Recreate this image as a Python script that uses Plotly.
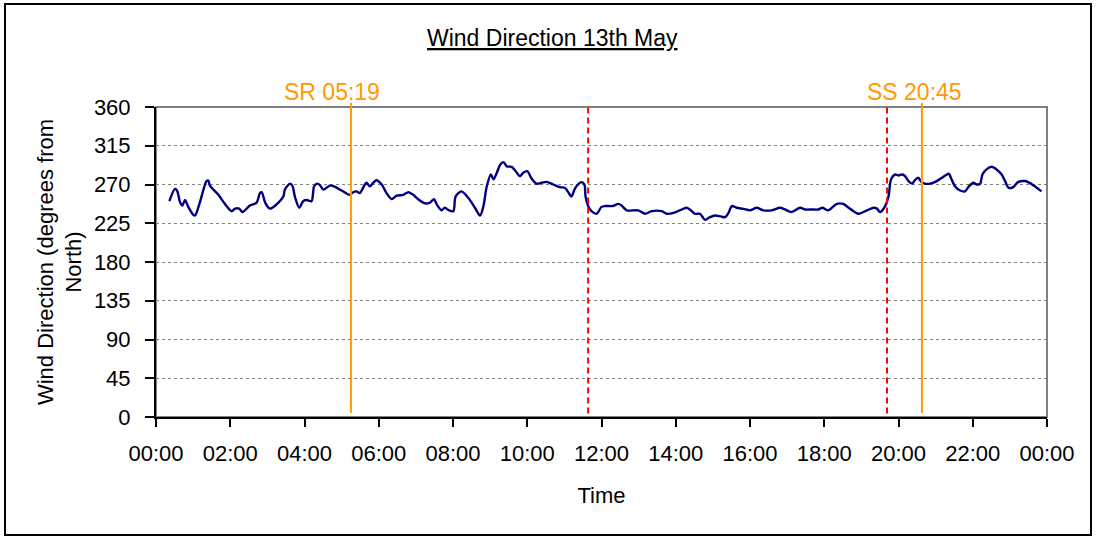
import pandas as pd
import plotly.graph_objects as go

# ---- data (hours after midnight, degrees from North) ----
hours = [0.36, 0.51, 0.575, 0.65, 0.71, 0.78, 0.87, 1.0, 1.05, 1.18, 1.36, 1.41, 1.45, 1.68, 1.90,
         2.04, 2.13, 2.24, 2.33, 2.53, 2.71, 2.80, 2.85, 2.94, 3.07, 3.25, 3.43, 3.47, 3.61, 3.68,
         3.74, 3.86, 3.97, 4.06, 4.19, 4.26, 4.35, 4.42, 4.51, 4.69, 4.78, 5.00, 5.21, 5.31, 5.40,
         5.49, 5.60, 5.67, 5.76, 5.85, 5.94, 6.08, 6.21, 6.35, 6.48, 6.66, 6.80, 6.93, 7.07, 7.25,
         7.38, 7.49, 7.56, 7.69, 7.78, 7.89, 8.01, 8.07, 8.23, 8.41, 8.59, 8.73, 8.82, 8.91, 9.02,
         9.09, 9.18, 9.27, 9.36, 9.45, 9.58, 9.72, 9.80, 9.89, 10.00, 10.12, 10.25, 10.39, 10.52,
         10.70, 10.88, 11.02, 11.09, 11.19, 11.28, 11.39, 11.46, 11.54, 11.57, 11.64, 11.73, 11.87,
         12.0, 12.09, 12.31, 12.45, 12.54, 12.68, 12.99, 13.17, 13.35, 13.62, 13.76, 13.94, 14.11,
         14.29, 14.38, 14.52, 14.65, 14.79, 14.92, 15.06, 15.21, 15.33, 15.42, 15.51, 15.64, 15.82,
         16.0, 16.18, 16.36, 16.58, 16.81, 16.94, 17.12, 17.35, 17.48, 17.66, 17.84, 17.95, 18.11,
         18.34, 18.51, 18.70, 18.92, 19.15, 19.33, 19.42, 19.50, 19.64, 19.73, 19.80, 19.91, 20.0,
         20.09, 20.16, 20.27, 20.37, 20.44, 20.53, 20.62, 20.71, 20.85, 21.03, 21.21, 21.36, 21.41,
         21.52, 21.66, 21.79, 21.90, 22.02, 22.11, 22.20, 22.26, 22.37, 22.51, 22.64, 22.78, 22.87,
         22.97, 23.09, 23.22, 23.40, 23.49, 23.67, 23.85]
direction = [250.6, 265, 262, 249, 245.6, 252, 244, 235, 234, 249, 274, 274.6, 269, 258, 245,
             239, 242, 242, 238, 245.6, 249, 260, 261, 249, 242, 247, 256, 264, 271, 268,
             256, 243, 251, 252, 250.6, 268, 271, 269, 264, 269, 268, 263, 258, 261, 262,
             260, 268, 272, 268, 272, 275, 270, 260, 253, 257, 258, 261, 258, 252.5, 248,
             249, 253, 247, 240, 243, 240, 239, 256, 262, 254.5, 243, 234, 245, 268, 281.6,
             276, 283.6, 293, 296, 291, 290.5, 283.6, 279.7, 283.6, 285.5, 276.6, 271, 272, 273,
             270, 267, 266, 262, 256, 265, 271, 272.7, 270, 256, 245, 239, 236,
             244, 245, 245, 247.5, 245.6, 240, 240, 236, 239, 239, 236, 237, 240,
             243, 241, 236, 236, 229, 232, 234, 233, 232, 237, 245, 243, 241.7,
             240, 243, 240, 240, 243, 241, 238, 243, 241, 241, 241, 243, 240,
             247.5, 247.5, 241.7, 236, 240, 243, 242, 238, 245, 256, 276, 281.6, 280.5,
             281.6, 280.5, 274, 271, 275, 277.8, 272.7, 271, 271, 274, 279, 282.4, 277.8,
             268, 263, 262, 268, 272, 270, 271, 281.6, 287.5, 290.6, 287.5, 281.6, 274,
             266, 267, 272.7, 274, 272.7, 268, 262]

sunrise_hour = 5.25
sunset_hour = 20.63
split_hours = [11.64, 19.69]
sunrise_label = "SR 05:19"
sunset_label = "SS 20:45"
y_ticks = [0, 45, 90, 135, 180, 225, 270, 315, 360]

day = pd.Timestamp("2024-05-13")
def t(h):
    return day + pd.Timedelta(hours=h)

times = [t(h) for h in hours]

FONT = "Liberation Sans, Arial, sans-serif"
ORANGE = "#FF9900"

# plot area in page pixels
L, R, T, B = 156, 1047, 107, 417
W, H = 1096, 537
def px(xp):
    return (xp - L) / (R - L)
def py(yp):
    return (B - yp) / (B - T)

fig = go.Figure()
fig.add_trace(go.Scatter(x=times, y=direction, mode="lines",
                         line=dict(color="#000080", width=2.4, shape="spline", smoothing=0.8),
                         showlegend=False, hoverinfo="skip"))

shapes = []
shapes.append(dict(type="rect", xref="paper", yref="paper", x0=0, x1=1, y0=0, y1=1,
                   line=dict(color="#808080", width=2), layer="below"))
shapes.append(dict(type="rect", xref="paper", yref="paper", x0=px(5), x1=px(1091),
                   y0=py(535), y1=py(4), line=dict(color="black", width=2)))
for h in split_hours:
    shapes.append(dict(type="line", xref="x", yref="y", x0=t(h), x1=t(h), y0=4, y1=360,
                       line=dict(color="#FF0000", width=2, dash="6px,4px")))
for h in (sunrise_hour, sunset_hour):
    shapes.append(dict(type="line", xref="x", yref="paper", x0=t(h), x1=t(h), y0=py(413),
                       y1=py(103), line=dict(color=ORANGE, width=2)))

annotations = [
    dict(x=t(4.74), y=py(92), xref="x", yref="paper", text=sunrise_label, showarrow=False,
         xanchor="center", yanchor="middle", font=dict(color=ORANGE, size=23, family=FONT)),
    dict(x=t(20.42), y=py(92), xref="x", yref="paper", text=sunset_label, showarrow=False,
         xanchor="center", yanchor="middle", font=dict(color=ORANGE, size=23, family=FONT)),
    dict(x=px(552), y=py(38), xref="paper", yref="paper",
         text="<u>Wind Direction 13th May</u>", showarrow=False,
         xanchor="center", yanchor="middle", font=dict(color="black", size=23, family=FONT)),
]

fig.update_layout(
    width=W, height=H,
    margin=dict(l=L, r=W - R, t=T, b=H - B),
    paper_bgcolor="white", plot_bgcolor="white",
    font=dict(family=FONT, size=22, color="black"),
    shapes=shapes, annotations=annotations,
    xaxis=dict(type="date", range=[t(0), t(24)], dtick=2 * 3600 * 1000, tick0=t(0),
               tickformat="%H:%M", showgrid=False, showline=True, linecolor="black",
               linewidth=2, ticks="outside", ticklen=8, tickwidth=2, tickcolor="black",
               ticklabelstandoff=8, zeroline=False,
               title=dict(text="Time", standoff=22, font=dict(size=22))),
    yaxis=dict(range=[0, 360], tickvals=y_ticks, showgrid=True, gridcolor="#808080",
               griddash="dot", gridwidth=1, showline=True, linecolor="black", linewidth=2,
               ticks="outside", ticklen=9, tickwidth=2, tickcolor="black",
               ticklabelstandoff=10, zeroline=False,
               title=dict(text="Wind Direction (degrees from<br>North)", standoff=6,
                          font=dict(size=22))),
)

fig.write_html("out.html", post_script="document.body.style.margin='0';",
               config={"displayModeBar": False})
